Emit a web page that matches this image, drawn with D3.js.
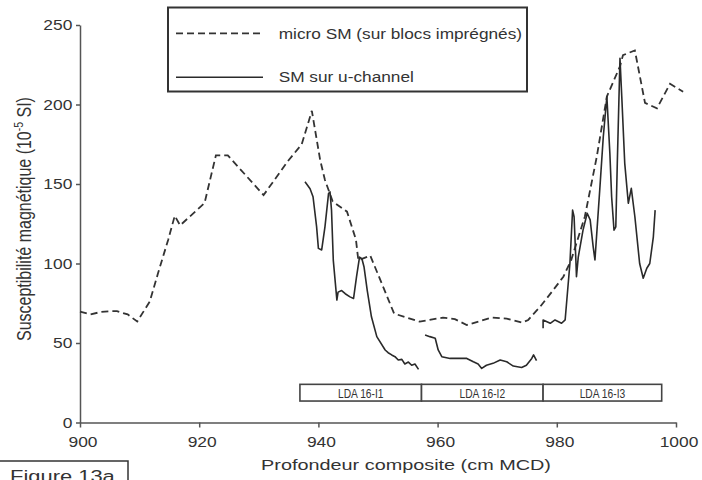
<!DOCTYPE html>
<html><head><meta charset="utf-8">
<script src="https://cdn.jsdelivr.net/npm/d3@7"></script>
<style>html,body{margin:0;padding:0;background:#fff;}svg{display:block;}</style>
</head><body>
<svg id="chart" width="702" height="480"></svg>
<script>
// ---- data ----
const microDepth = [900,901.7,903.5,905,906.2,908,909.6,911.7,913.1,914.8,915.9,916.8,920.9,922.8,924.8,930.8,934.8,937.2,938.9,940.3,941.1,942.4,944.8,946.3,946.7,948.7,950.9,952.7,957.0,960.9,962.9,964.9,969.1,971.6,974.2,975.2,977.2,979.4,981.1,982.4,984.7,986.7,988.4,990.6,991.1,993.1,994.8,996.8,999.0,1001.2];
const microSM    = [69.7,68,69.5,70,70,68,63.5,76,94,115,130,124,138,168,168,143,164,175,196,165,152.5,139,132.6,115,102,105,85,68.5,63.4,66,65,61.3,66,65.3,62.8,64.5,72.8,83.3,91.7,102,129.4,167,205,224,231,234,201,197.6,213,208];

const uDepth1 = [937.75,938.6,939.1,939.7,940.0,940.55,941.1,941.7,941.95,942.2,942.5,943.1,943.3,943.9,944.5,945.3,945.9,946.4,946.9,947.3,947.65,948.2,948.9,949.8,951.2,951.7,952.3,952.85,953.4,954.0,954.5,955.1,955.65,956.2,956.8];
const uSM1    = [151.4,147,142,123,109.5,108.5,123,144,145,133.6,102,77,82,83,81,79,78,91.7,104,103,98,83,66.5,54,45.6,43.9,42.5,41.4,39.3,39.7,36.8,38,36,36.8,33.4];

const uDepth2 = [957.9,958.7,959.6,960.1,960.7,962.1,963.8,964.9,966.0,966.8,967.4,968.2,969.3,970.5,971.6,972.7,974.1,974.9,975.8,976.1,976.6];
const uSM2    = [55,54,53,45.6,41.4,40.3,40.3,40.3,38.2,36.8,34,36,37.2,39.3,38.2,35.5,34.6,36,40.3,42.5,38.9];

const uDepth3 = [977.7,977.7,978.9,979.7,980.8,981.4,982.2,982.65,982.9,983.2,983.3,983.6,984.4,985.1,985.6,986.1,986.4,987.2,987.8,988.4,988.9,989.2,989.6,989.9,990.15,990.6,990.9,991.4,992.0,992.5,993.1,993.9,994.5,995.1,995.6,996.2,996.5];
const uSM3    = [59.2,64.5,62.4,64.5,62.4,64.5,100,133.6,129.4,102,91.7,104,121,131.6,127.4,110.6,102.2,146,179.7,205,169.6,142,121,123,163,229,205,163,137.9,147.3,129.4,100,90.7,97,100,116.8,133.6];

const ldaLabels = ["LDA 16-I1","LDA 16-I2","LDA 16-I3"];
const ldaStart  = [936.9,957.3,977.7];
const ldaEnd    = [957.3,977.7,997.6];

const xTicks = [900,920,940,960,980,1000];
const yTicks = [0,50,100,150,200,250];
const legendLabels = ["micro SM (sur blocs imprégnés)","SM sur u-channel"];
const xTitle = "Profondeur composite (cm MCD)";
const figLabel = "Figure 13a";

// ---- drawing ----
const svg = d3.select("#chart");
const FONT = "'Liberation Sans', Arial, sans-serif";
const INK = "#333";
const x = d3.scaleLinear().domain([900,1000]).range([80,676]);
const y = d3.scaleLinear().domain([0,250]).range([422.5,25]);

function txt(g, px, py, str, size, sx, anchor, rot) {
  return g.append("text")
    .attr("transform", `translate(${px},${py}) scale(${sx},1)` + (rot ? ` rotate(${rot})` : ""))
    .attr("font-family", FONT).attr("font-size", size)
    .attr("fill", INK).attr("text-anchor", anchor || "start")
    .text(str);
}

// axes
const gx = svg.append("g").attr("transform", "translate(0,422.5)")
  .call(d3.axisBottom(x).tickValues(xTicks).tickSize(5).tickSizeOuter(0).tickFormat(d3.format("d")));
gx.selectAll("text").attr("y", 0).attr("dy", 0)
  .attr("transform", "translate(2.5,24.8) scale(1.2,1)")
  .attr("font-family", FONT).attr("font-size", 14.5).attr("fill", INK);

const gy = svg.append("g").attr("transform", "translate(80,0)")
  .call(d3.axisLeft(y).tickValues(yTicks).tickSize(4).tickSizeOuter(0));
gy.selectAll("text").attr("x", -6.4).attr("dy", "0.33em")
  .attr("transform", "scale(1.2,1)")
  .attr("font-family", FONT).attr("font-size", 14.5).attr("fill", INK);
svg.selectAll(".domain, .tick line").attr("stroke", "#555").attr("stroke-width", 1.5);

// LDA boxes
const lda = svg.append("g");
ldaLabels.forEach((lab, i) => {
  lda.append("rect")
    .attr("x", x(ldaStart[i])).attr("y", y(24))
    .attr("width", x(ldaEnd[i]) - x(ldaStart[i])).attr("height", y(13.5) - y(24))
    .attr("fill", "#fff").attr("stroke", "#444").attr("stroke-width", 1.6);
  txt(lda, (x(ldaStart[i]) + x(ldaEnd[i])) / 2, 398, lab, 12.5, 0.82, "middle");
});

// lines
const line = d3.line().x(d => x(d[0])).y(d => y(d[1]));
svg.append("path").datum(microDepth.map((d, i) => [d, microSM[i]]))
  .attr("d", line).attr("fill", "none").attr("stroke", "#333")
  .attr("stroke-width", 1.8).attr("stroke-dasharray", "7,4");
[[uDepth1, uSM1], [uDepth2, uSM2], [uDepth3, uSM3]].forEach(([ds, vs]) => {
  svg.append("path").datum(ds.map((d, i) => [d, vs[i]]))
    .attr("d", line).attr("fill", "none").attr("stroke", "#2a2a2a")
    .attr("stroke-width", 1.6).attr("stroke-linejoin", "round");
});

// legend
const lg = svg.append("g");
lg.append("rect").attr("x", 168).attr("y", 7.5).attr("width", 359).attr("height", 84)
  .attr("fill", "#fff").attr("stroke", "#333").attr("stroke-width", 2);
lg.append("line").attr("x1", 176).attr("x2", 263).attr("y1", 33.3).attr("y2", 33.3)
  .attr("stroke", "#333").attr("stroke-width", 1.8).attr("stroke-dasharray", "7,4");
lg.append("line").attr("x1", 176).attr("x2", 263).attr("y1", 77.3).attr("y2", 77.3)
  .attr("stroke", "#2a2a2a").attr("stroke-width", 1.6);
txt(lg, 278.7, 39.3, legendLabels[0], 15, 1.15);
txt(lg, 278.7, 81.5, legendLabels[1], 15, 1.15);

// axis titles
txt(svg, 406, 469.5, xTitle, 15.5, 1.28, "middle");
const yt = svg.append("text")
  .attr("transform", "translate(30.5,219) scale(1.22,1) rotate(-90)")
  .attr("font-family", FONT).attr("font-size", 16).attr("fill", INK)
  .attr("text-anchor", "middle");
yt.append("tspan").text("Susceptibilité magnétique (10");
yt.append("tspan").attr("font-size", 10.5).attr("dy", -6).text("-5");
yt.append("tspan").attr("dy", 6).text(" SI)");

// figure label
svg.append("rect").attr("x", -2).attr("y", 461).attr("width", 130).attr("height", 30)
  .attr("fill", "#fff").attr("stroke", "#333").attr("stroke-width", 1.5);
txt(svg, 10, 481.5, figLabel, 17, 1.29);
</script>
</body></html>
